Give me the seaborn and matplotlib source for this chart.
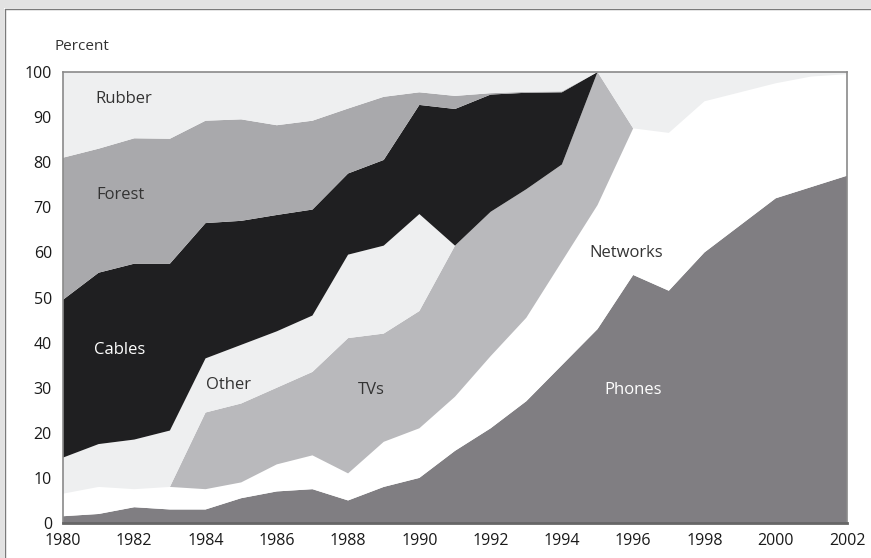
import matplotlib
matplotlib.use("Agg")
import matplotlib.pyplot as plt
import seaborn as sns
import numpy as np
from matplotlib.patches import Rectangle

years = list(range(1980, 2003))
phones   = [1.5, 2, 3.5, 3, 3, 5.5, 7, 7.5, 5, 8, 10, 16, 21, 27, 35, 43, 55, 51.5, 60, 66, 72, 74.5, 77]
networks = [5, 6, 4, 5, 4.5, 3.5, 6, 7.5, 6, 10, 11, 12, 16, 18.5, 23, 27.5, 32.5, 35, 33.5, 29.5, 25.5, 24.5, 22.5]
tvs      = [0, 0, 0, 0, 17, 17.5, 17, 18.5, 30, 24, 26, 33.5, 32, 28.5, 21.5, 29.5, 0, 0, 0, 0, 0, 0, 0]
other    = [8, 9.5, 11, 12.5, 12, 13, 12.5, 12.5, 18.5, 19.5, 21.5, 0, 0, 0, 0, 0, 12.5, 13.5, 6.5, 4.5, 2.5, 1, 0.5]
cables   = [35, 38, 39, 37, 30, 27.5, 25.8, 23.5, 18, 19, 24.2, 30.3, 26, 21.4, 16, 0, 0, 0, 0, 0, 0, 0, 0]
forest   = [31.5, 27.5, 27.8, 27.7, 22.7, 22.5, 19.9, 19.7, 14.4, 14, 2.8, 2.9, 0.3, 0.2, 0.2, 0, 0, 0, 0, 0, 0, 0, 0]
rubber   = [19, 17, 14.7, 14.8, 10.8, 10.5, 11.8, 10.8, 8.1, 5.5, 4.5, 5.3, 4.7, 4.4, 4.3, 0, 0, 0, 0, 0, 0, 0, 0]

segment_names = ["Phones", "Networks", "TVs", "Other", "Cables", "Forest", "Rubber"]
yticks = [0, 10, 20, 30, 40, 50, 60, 70, 80, 90, 100]
xticks = list(range(1980, 2003, 2))

sns.set_theme(style="white")
plt.rcParams['font.family'] = ['Open Sans', 'DejaVu Sans']

colors = ["#807e82", "#ffffff", "#b9b9bc", "#eeeff0", "#1f1f21", "#a9a9ac", "#eeeff0"]

fig = plt.figure(figsize=(8.71, 5.58), dpi=100)
fig.patch.set_facecolor("white")
# outer frame
fig.patches.append(Rectangle((0, 1 - 8/558), 1, 8/558, transform=fig.transFigure,
                             facecolor="#e2e2e2", edgecolor="none", zorder=-5))
fig.patches.append(Rectangle((0, 0), 4/871, 1, transform=fig.transFigure,
                             facecolor="#e2e2e2", edgecolor="none", zorder=-5))
fig.lines.append(plt.Line2D([4.5/871, 4.5/871], [0, 1 - 8.5/558], transform=fig.transFigure,
                            color="#7a7a7a", lw=1))
fig.lines.append(plt.Line2D([4.5/871, 1], [1 - 8.5/558, 1 - 8.5/558], transform=fig.transFigure,
                            color="#7a7a7a", lw=1))

ax = fig.add_axes([63/871, 1 - 523/558, (847 - 63)/871, (523 - 72)/558])
ax.stackplot(years, phones, networks, tvs, other, cables, forest, rubber,
             colors=colors, labels=segment_names, linewidth=0, edgecolor="none")

ax.set_xlim(1980, 2002)
ax.set_ylim(0, 100)
ax.set_xticks(xticks)
ax.set_yticks(yticks)
ax.tick_params(axis="both", which="both", length=4, width=1, color="#555555",
               labelsize=11.5, labelcolor="#1a1a1a", direction="out")
ax.tick_params(axis="x", pad=3)
ax.tick_params(axis="y", pad=8, length=0)
for side in ["left", "bottom", "top", "right"]:
    ax.spines[side].set_color("#8a8a8a")
    ax.spines[side].set_linewidth(1.2)
ax.spines["bottom"].set_color("#666666")
ax.spines["bottom"].set_linewidth(2)

fig.text(55/871, 1 - 47/558, "Percent", fontsize=11, color="#333333",
         ha="left", va="center")

labels = [
    ("Rubber", 1981.7, 94.0, "#333333"),
    ("Forest", 1981.6, 72.7, "#333333"),
    ("Cables", 1981.6, 38.4, "#ffffff"),
    ("Other", 1984.65, 30.6, "#333333"),
    ("TVs", 1988.65, 29.5, "#333333"),
    ("Networks", 1995.8, 59.9, "#333333"),
    ("Phones", 1996.0, 29.5, "#ffffff"),
]
for txt, x, y, c in labels:
    ax.text(x, y, txt, fontsize=12, color=c, ha="center", va="center")

fig.savefig("out.png", dpi=100)
